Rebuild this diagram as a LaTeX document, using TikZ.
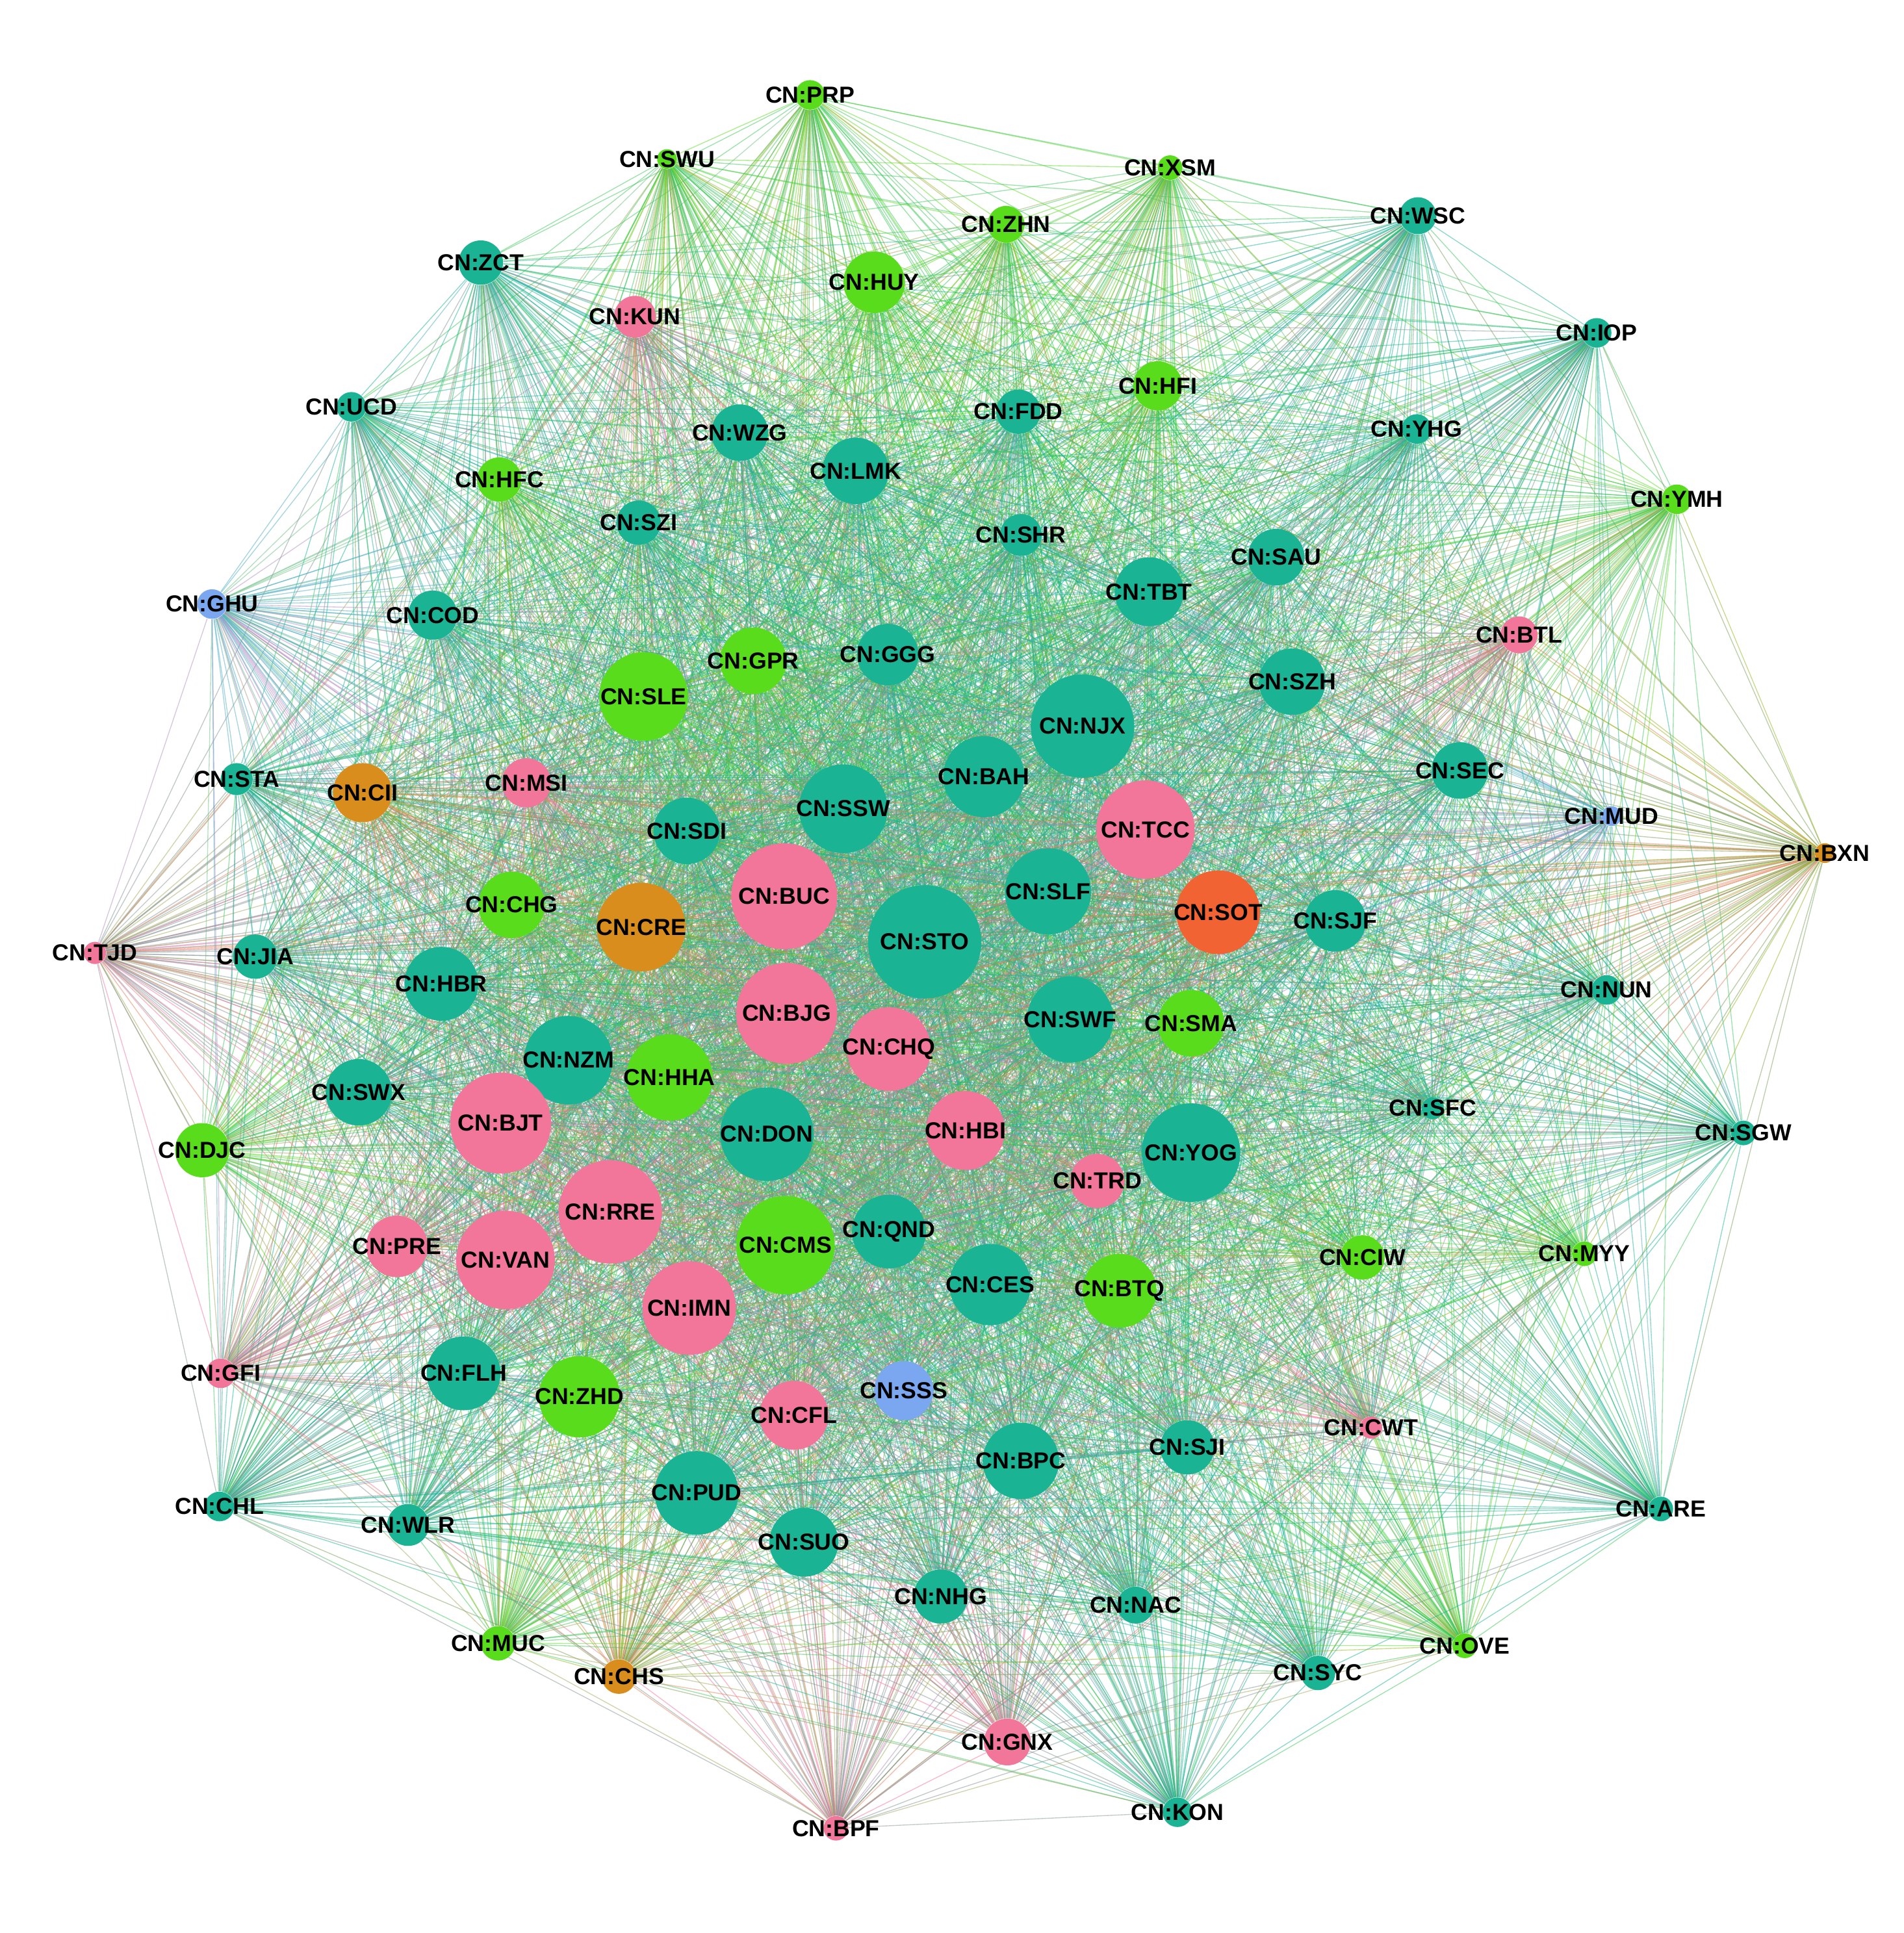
\documentclass[tikz,border=0pt]{standalone}
\usepackage{fontspec}
\setmainfont{Liberation Sans}
\pgfdeclarelayer{bg}
\pgfsetlayers{bg,main}
\definecolor{cT}{HTML}{1AB394}
\definecolor{cG}{HTML}{58DC1C}
\definecolor{cP}{HTML}{F2759A}
\definecolor{cO}{HTML}{D98D1C}
\definecolor{cR}{HTML}{F26334}
\definecolor{cB}{HTML}{7BA6F0}
\def\nodelist{PRP/657/77/12/cG, SWU/541/129/8/cG, XSM/949/136/10/cG, ZHN/816/182/15/cG, WSC/1150/175/15/cT,
HUY/709/229/25/cG, ZCT/390/213/18/cT, KUN/515/257/17/cP, IOP/1295/270/12/cT, UCD/285/330/12/cT,
HFI/939/313/20/cG, FDD/826/334/18/cT, WZG/600/351/23/cT, LMK/694/382/27/cT, YHG/1149/348/12/cT,
HFC/405/389/18/cG, YMH/1360/405/12/cG, SZI/518/424/18/cT, SHR/828/434/17/cT, SAU/1035/452/23/cT,
TBT/932/480/28/cT, GHU/172/490/12/cB, COD/351/499/20/cT, BTL/1232/515/15/cP, GPR/611/536/27/cG,
GGG/720/531/25/cT, SLE/522/565/36/cG, SZH/1048/553/27/cT, NJX/878/589/42/cT, STA/192/632/13/cT,
CII/294/643/24/cO, MSI/427/635/20/cP, BAH/798/630/33/cT, SEC/1184/625/23/cT, SSW/684/656/36/cT,
TCC/929/673/40/cP, SDI/557/674/27/cT, MUD/1307/662/8/cB, BXN/1480/692/8/cO, SLF/850/723/35/cT,
BUC/636/727/43/cP, SOT/988/740/34/cR, SJF/1083/747/25/cT, CHG/415/734/27/cG, CRE/520/752/36/cO,
STO/750/764/46/cT, TJD/77/773/9/cP, JIA/207/776/18/cT, HBR/358/798/30/cT, BJG/638/822/41/cP,
NUN/1303/803/12/cT, SWF/868/827/35/cT, SMA/966/830/27/cG, CHQ/721/851/34/cP, NZM/461/860/36/cT,
HHA/543/874/35/cG, SWX/291/886/27/cT, BJT/406/911/41/cP, DON/622/920/38/cT, HBI/783/917/32/cP,
SFC/1162/899/9/cT, SGW/1414/919/10/cT, DJC/164/933/22/cG, TRD/890/958/22/cP, YOG/966/935/40/cT,
RRE/495/983/42/cP, PRE/322/1011/25/cP, VAN/410/1022/40/cP, CMS/637/1010/40/cG, QND/721/999/30/cT,
CIW/1105/1020/18/cG, MYY/1285/1017/10/cG, CES/803/1042/33/cT, BTQ/908/1047/30/cG, IMN/559/1061/38/cP,
GFI/179/1114/12/cP, FLH/376/1114/30/cT, ZHD/470/1133/33/cG, SSS/733/1128/24/cB, CFL/644/1148/28/cP,
CWT/1112/1158/9/cP, SJI/963/1174/22/cT, BPC/828/1185/31/cT, CHL/178/1222/12/cT, ARE/1347/1224/10/cT,
PUD/565/1211/34/cT, WLR/331/1237/17/cT, SUO/652/1251/28/cT, NHG/763/1295/22/cT, NAC/921/1302/15/cT,
MUC/404/1333/14/cG, CHS/502/1360/14/cO, OVE/1188/1335/10/cG, SYC/1069/1357/14/cT, GNX/817/1413/19/cP,
KON/955/1470/12/cT, BPF/678/1483/10/cP}
\begin{document}
\begin{tikzpicture}[x=0.02cm,y=-0.02cm,
  dot/.style={circle,inner sep=0pt,draw=none},
  lab/.style={font=\fontsize{10.7}{12}\selectfont\bfseries,inner sep=0pt,text=black},
  edge/.style={line width=0.4pt,draw opacity=0.5}]
\useasboundingbox (0,0) rectangle (1544,1568);
\foreach \n/\x/\y/\r/\c [count=\k] in \nodelist {
  \node[dot,fill=\c,minimum size={\r*0.04cm}] (\n) at (\x,\y) {};
  \expandafter\xdef\csname nn\k\endcsname{\n}
  \expandafter\xdef\csname cc\n\endcsname{\c}
}
\foreach \n/\x/\y/\r/\c in \nodelist {
  \node[lab] (\n-l) at (\n) {CN:\n};
}
\begin{pgfonlayer}{bg}
\fill[white] (0,0) rectangle (1544,1568);
\foreach \i in {1,...,96}{
  \pgfmathtruncatemacro\s{\i+1}
  \foreach \j in {\s,...,97}{
    \edef\ea{\csname nn\i\endcsname}\edef\eb{\csname nn\j\endcsname}
    \edef\ecol{\csname cc\ea\endcsname!50!\csname cc\eb\endcsname}
    \draw[edge,draw=\ecol] (\ea) -- (\eb);
  }
}
\end{pgfonlayer}
\end{tikzpicture}
\end{document}
